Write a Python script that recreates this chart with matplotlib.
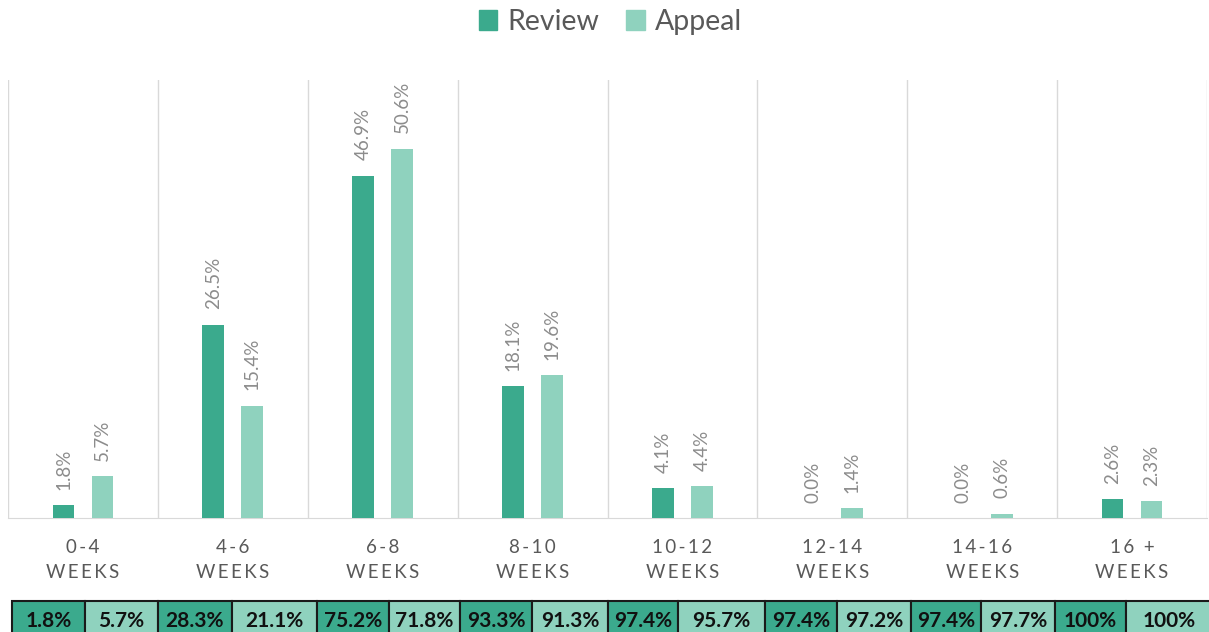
import matplotlib.pyplot as plt
import numpy as np
from matplotlib.patches import Patch

categories = ["0-4", "4-6", "6-8", "8-10", "10-12", "12-14", "14-16", "16 +"]
review = [1.8, 26.5, 46.9, 18.1, 4.1, 0.0, 0.0, 2.6]
appeal = [5.7, 15.4, 50.6, 19.6, 4.4, 1.4, 0.6, 2.3]
review_cum = ["1.8%", "28.3%", "75.2%", "93.3%", "97.4%", "97.4%", "97.4%", "100%"]
appeal_cum = ["5.7%", "21.1%", "71.8%", "91.3%", "95.7%", "97.2%", "97.7%", "100%"]

dark = "#3BAA8D"
light = "#8FD2BE"
fam = ["Lato", "DejaVu Sans"]
plt.rcParams['font.family'] = fam

W, H = 1209, 632
fig = plt.figure(figsize=(W / 100, H / 100), dpi=100)
ax_l, ax_r, ax_b, ax_t = 8, 1207, 518, 80
ax = fig.add_axes([ax_l / W, 1 - ax_b / H, (ax_r - ax_l) / W, (ax_b - ax_t) / H])

x = np.arange(len(categories))
w = 0.145
off = 0.13
b1 = ax.bar(x - off, review, w, color=dark, zorder=3)
b2 = ax.bar(x + off, appeal, w, color=light, zorder=3)

for bars, vals in ((b1, review), (b2, appeal)):
    for r, v in zip(bars, vals):
        ax.annotate(f"{v:.1f}%", (r.get_x() + r.get_width() / 2, r.get_height()),
                    xytext=(0, 11), textcoords="offset points", rotation=90,
                    ha="center", va="bottom", fontsize=13.5, color="#8C8C8C")

ax.set_xlim(-0.5, len(categories) - 0.5)
ax.set_ylim(0, 60)
ax.set_yticks([])
for b in np.arange(-0.5, len(categories), 1.0):
    ax.axvline(b, color="#D9D9D9", lw=1, zorder=1)

def spaced(s):
    return "\u2009".join(s)

ax.set_xticks(x)
ax.set_xticklabels([spaced(c) + "\n" + spaced("WEEKS") for c in categories],
                   fontsize=13.5, color="#595959", linespacing=1.55)
ax.tick_params(axis="x", length=0, pad=15)
for s in ("left", "right", "top"):
    ax.spines[s].set_visible(False)
ax.spines["bottom"].set_color("#D9D9D9")

handles = [Patch(color=dark, label="Review"), Patch(color=light, label="Appeal")]
fig.legend(handles=handles, loc="center", bbox_to_anchor=(0.505, 1 - 22 / H), ncol=2,
           frameon=False, fontsize=20.5, handlelength=0.65, handleheight=0.65,
           handletextpad=0.35, columnspacing=0.95, labelcolor="#595959")

# spreadsheet column edges (pixels) for the cumulative row
edges = [12, 85, 158, 232, 317, 389, 460, 532, 608, 678, 765, 837, 911, 981, 1055, 1126, 1212]
span = ax_r - ax_l
col_w = list(np.diff(edges) / (edges[-1] - edges[0]))
tbl_top, tbl_h = 601, 40
cells = [[v for pair in zip(review_cum, appeal_cum) for v in pair]]
colors = [[c for _ in categories for c in (dark, light)]]
tbl = ax.table(cellText=cells, cellColours=colors, cellLoc="center", colWidths=col_w,
               bbox=[(edges[0] - ax_l) / span, (ax_b - tbl_top - tbl_h) / (ax_b - ax_t),
                     (edges[-1] - edges[0]) / span, tbl_h / (ax_b - ax_t)])
tbl.auto_set_font_size(False)
for cell in tbl.get_celld().values():
    cell.set_edgecolor("#1A1A1A")
    cell.set_linewidth(1.5)
    cell.get_text().set_fontsize(15)
    cell.get_text().set_fontweight("bold")
    cell.get_text().set_color("#111111")

fig.savefig("out.png", dpi=100)
